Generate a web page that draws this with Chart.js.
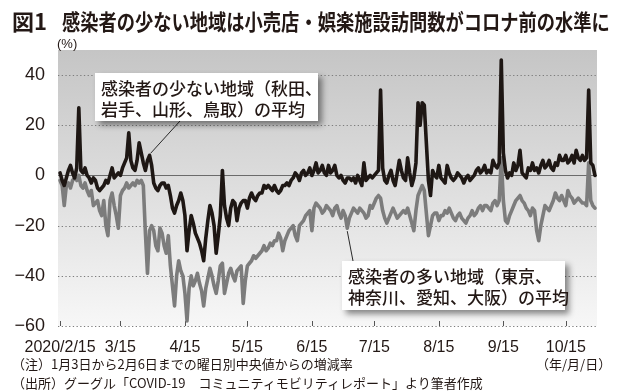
<!DOCTYPE html>
<html lang="ja">
<head>
<meta charset="UTF-8">
<title>図1 感染者の少ない地域は小売店・娯楽施設訪問数がコロナ前の水準に</title>
<script src="https://cdn.jsdelivr.net/npm/chart.js"></script>
<style>
  * { margin: 0; padding: 0; box-sizing: border-box; }
  body {
    width: 620px; height: 392px; position: relative; overflow: hidden;
    background: #fff; color: #231815;
    font-family: "Noto Sans CJK JP", sans-serif;
  }
  #chartBox { position: absolute; left: 0; top: 0; width: 620px; height: 392px; }
  .txt { position: absolute; white-space: nowrap; transform-origin: left top; }
  .title { top: 6px; font-size: 22px; font-weight: bold; line-height: 28px; }
  .unit { left: 57px; top: 36px; font-size: 13px; font-family: "Liberation Sans", sans-serif; }
  .note { left: 12px; font-size: 13px; line-height: 16px; }
  .ymd { left: 536px; top: 354px; font-size: 13px; }
  /* series labels */
  .label-box {
    position: absolute; background: #fff;
    box-shadow: 4px 4px 6px rgba(0, 0, 0, 0.45);
    font-size: 17px; font-weight: 500; line-height: 21px; padding: 4px 0 0 6px;
    white-space: nowrap;
  }
</style>
</head>
<body>
<div id="chartBox"><canvas id="mobilityChart" width="620" height="392"></canvas></div>

<div class="txt title" style="left:12px">図1</div>
<div class="txt title" style="left:62px; transform:scaleX(0.83)">感染者の少ない地域は小売店・娯楽施設訪問数がコロナ前の水準に</div>
<div class="txt unit">(%)</div>

<div class="label-box" style="left:95px; top:73px; width:223px; height:48px">感染者の少ない地域（秋田、<br>岩手、山形、鳥取）の平均</div>
<div class="label-box" style="left:342px; top:261px; width:223px; height:49px">感染者の多い地域（東京、<br>神奈川、愛知、大阪）の平均</div>

<div class="txt note" style="top:356px">（注）1月3日から2月6日までの曜日別中央値からの増減率</div>
<div class="txt note" style="top:375px">（出所）グーグル「COVID-19　コミュニティモビリティレポート」より筆者作成</div>
<div class="txt ymd">（年/月/日）</div>

<script>
    // days counted from 2020/2/15, one value per day
    const fewCases = [
        1, -2, -4, -1, 2, 4, 1, -1, 3, 27,
        2, 1, 3, 0, -1, -3, -1, -2, -5, -6,
        -5, -4, -2, -3, 0, 3, -1, 0, 1, 0,
        3, 5, 7, 17, 6, 3, 2, 6, 13, 9,
        5, 2, 6, 8, 4, -3, -5, -6, -4, -3,
        -3, -5, -4, -8, -13, -15, -12, -10, -7, -10,
        -16, -30, -22, -16, -19, -23, -25, -27, -30, -34,
        -25, -18, -12, -15, -20, -31, -24, -16, 2, -12,
        -17, -20, -13, -10, -11, -18, -13, -11, -10, -10,
        -13, -9, -7, -9, -10, -8, -7, -7, -4, -5,
        -4, -5, -6, -4, -6, -7, -6, -4, -4, -3,
        -4, -2, -1, 1, 0, -2, 1, 2, 0, 1,
        3, 0, 2, 5, 1, 2, 4, 1, 0, 4,
        1, 2, 4, 0, -1, 0, -2, -3, -1, -1,
        -2, -1, -3, 0, -2, -4, 5, -2, -1, 0,
        -1, 0, 1, 2, 34, 3, -2, -3, 0, 2,
        -2, -4, 1, 6, 2, -1, -2, 7, 1, -4,
        -1, 5, 29, 20, 29, 28, 13, -2, -8, 2,
        0, -1, 4, -1, -2, -3, 4, 1, -1, -2,
        -1, 1, 0, -1, -3, -1, 0, -2, -1, 0,
        2, 3, 1, 2, 4, 1, 2, 1, 6, 4,
        3, 5, 46, 9, 2, -1, 1, 0, 5, 2,
        4, 10, 1, 0, -1, 3, 2, 5, 2, 3,
        1, 4, 6, 3, 4, 6, 3, 2, 5, 4,
        8, 6, 6, 8, 5, 6, 8, 5, 10, 7,
        6, 8, 6, 7, 34, 5, 4, 0
    ];
    const manyCases = [
        -2, -4, -12, -4, -3, -5, -2, -1, -2, 0,
        -4, -5, -3, -6, -8, -6, -12, -11, -10, -14,
        -16, -10, -20, -24, -10, -7, -12, -16, -21, -8,
        -6, -5, -3, -5, -4, -3, -4, -2, -3, -2,
        -4, -23, -39, -22, -20, -22, -28, -30, -21, -23,
        -28, -31, -24, -36, -44, -52, -40, -34, -38, -40,
        -47, -58, -45, -40, -44, -42, -39, -43, -46, -52,
        -45, -41, -37, -40, -44, -47, -42, -36, -35, -47,
        -43, -39, -37, -40, -42, -38, -37, -36, -51, -42,
        -36, -35, -34, -32, -33, -32, -31, -30, -28, -30,
        -29, -27, -28, -26, -26, -23, -25, -30, -26, -24,
        -22, -21, -20, -24, -26, -20, -19, -18, -16, -15,
        -14, -22, -13, -11, -12, -13, -15, -14, -12, -13,
        -14, -16, -13, -12, -15, -17, -14, -16, -21, -17,
        -15, -13, -14, -15, -13, -14, -15, -17, -16, -12,
        -13, -11, -9, -8, -9, -14, -17, -19, -17, -15,
        -13, -15, -17, -16, -15, -14, -15, -13, -16, -19,
        -22, -14, -8, -6, -4, -6, -15, -24, -20, -16,
        -15, -15, -18, -16, -16, -14, -15, -13, -15, -17,
        -18, -16, -15, -17, -18, -19, -17, -16, -14, -16,
        -15, -13, -12, -14, -12, -12, -13, -14, -11, -10,
        -12, -10, 7, -10, -18, -19, -16, -14, -12, -10,
        -9, -8, -10, -11, -13, -14, -16, -13, -14, -22,
        -26, -20, -16, -12, -13, -14, -12, -10, -7, -9,
        -10, -8, -10, -12, -6, -8, -9, -11, -10, -9,
        -10, -11, -11, -12, 5, -10, -12, -13
    ];
    // x tick positions (days from 2/15) and their labels
    const tickDays = [0, 29, 60, 90, 121, 151, 182, 213, 243];
    const tickLabels = ['2020/2/15', '3/15', '4/15', '5/15', '6/15', '7/15', '8/15', '9/15', '10/15'];
    const yTicks = [-60, -40, -20, 0, 20, 40];

    const INK = '#231815';

    // gray gradient panel, dotted grid, zero line and date ticks
    const panelPlugin = {
        id: 'panel',
        beforeDraw(chart) {
            const { ctx, chartArea: a } = chart;
            const g = ctx.createLinearGradient(0, a.top, 0, a.bottom);
            g.addColorStop(0, '#c5c5c5');
            g.addColorStop(1, '#f7f7f7');
            ctx.save();
            ctx.fillStyle = g;
            ctx.fillRect(a.left, a.top, a.right - a.left, a.bottom - a.top);
            ctx.restore();
        },
        beforeDatasetsDraw(chart) {
            const { ctx, chartArea: a, scales: { x, y } } = chart;
            ctx.save();
            yTicks.forEach(v => {
                const py = Math.round(y.getPixelForValue(v)) + 0.5;
                ctx.beginPath();
                if (v === 0) {
                    ctx.setLineDash([]);
                    ctx.strokeStyle = '#6b6b6b';
                    ctx.lineWidth = 1.2;
                } else {
                    ctx.setLineDash([1.3, 2.4]);
                    ctx.strokeStyle = '#7d7d7d';
                    ctx.lineWidth = 1;
                }
                ctx.moveTo(a.left, py);
                ctx.lineTo(a.right, py);
                ctx.stroke();
            });
            ctx.setLineDash([]);
            ctx.strokeStyle = '#555';
            ctx.lineWidth = 1;
            const base = y.getPixelForValue(-60);
            tickDays.forEach(d => {
                const px = Math.round(x.getPixelForValue(d)) + 0.5;
                ctx.beginPath();
                ctx.moveTo(px, base);
                ctx.lineTo(px, base - 5);
                ctx.stroke();
            });
            ctx.restore();
        },
        afterDatasetsDraw(chart) {
            // leader lines from the label boxes to the series
            const { ctx, scales: { x, y } } = chart;
            ctx.save();
            ctx.strokeStyle = '#2a2a2a';
            ctx.lineWidth = 1;
            ctx.beginPath();
            ctx.moveTo(180, 121);
            ctx.lineTo(x.getPixelForValue(43) + 1, y.getPixelForValue(fewCases[43]) - 2);
            ctx.moveTo(353, 261);
            ctx.lineTo(x.getPixelForValue(138), y.getPixelForValue(manyCases[138]) + 3);
            ctx.stroke();
            ctx.restore();
        }
    };

    new Chart(document.getElementById('mobilityChart'), {
        type: 'line',
        data: {
            datasets: [
                {
                    label: '感染者の少ない地域（秋田、岩手、山形、鳥取）の平均',
                    data: fewCases.map((v, i) => ({ x: i, y: v })),
                    borderColor: '#1e1714',
                    borderWidth: 3.6,
                    order: 0
                },
                {
                    label: '感染者の多い地域（東京、神奈川、愛知、大阪）の平均',
                    data: manyCases.map((v, i) => ({ x: i, y: v })),
                    borderColor: '#7c7c7c',
                    borderWidth: 3.6,
                    order: 1
                }
            ]
        },
        options: {
            responsive: false,
            animation: false,
            events: [],
            layout: { padding: { top: 50, right: 23, left: 0, bottom: 0 } },
            elements: {
                point: { radius: 0 },
                line: { tension: 0, borderJoinStyle: 'round', borderCapStyle: 'round' }
            },
            plugins: { legend: { display: false }, tooltip: { enabled: false } },
            scales: {
                x: {
                    type: 'linear',
                    min: -1,
                    max: 258,
                    afterBuildTicks: s => { s.ticks = tickDays.map(v => ({ value: v })); },
                    afterFit: s => { s.height = 66; },
                    grid: { display: false },
                    border: { display: false },
                    ticks: {
                        autoSkip: false,
                        maxRotation: 0,
                        padding: 4,
                        color: INK,
                        font: { family: 'Liberation Sans', size: 16 },
                        callback: v => tickLabels[tickDays.indexOf(v)]
                    }
                },
                y: {
                    min: -60,
                    max: 50,
                    afterBuildTicks: s => { s.ticks = yTicks.map(v => ({ value: v })); },
                    afterFit: s => { s.width = 58; },
                    grid: { display: false },
                    border: { display: false },
                    ticks: {
                        padding: 5,
                        color: INK,
                        font: { family: 'Liberation Sans', size: 18 },
                        callback: v => (v < 0 ? '\u2212' + Math.abs(v) : String(v))
                    }
                }
            }
        },
        plugins: [panelPlugin]
    });
</script>
</body>
</html>
